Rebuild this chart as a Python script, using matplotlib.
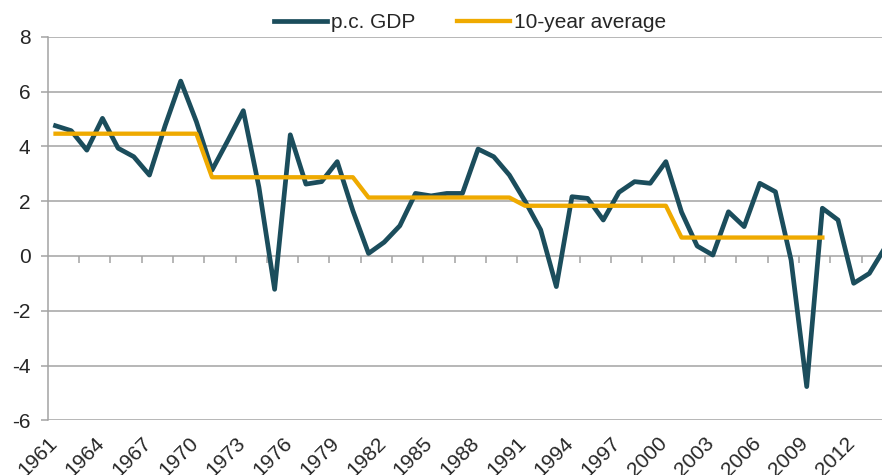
import numpy as np
import matplotlib
matplotlib.use("Agg")
import matplotlib.pyplot as plt
from matplotlib.transforms import ScaledTranslation

years = list(range(1961, 2015))
gdp = [4.75, 4.57, 3.86, 5.02, 3.93, 3.62, 2.95, 4.75, 6.38, 4.90,
       3.13, 4.20, 5.30, 2.50, -1.22, 4.42, 2.62, 2.71, 3.44, 1.65,
       0.09, 0.50, 1.10, 2.28, 2.19, 2.28, 2.28, 3.90, 3.62, 2.95,
       2.00, 0.95, -1.12, 2.16, 2.10, 1.31, 2.32, 2.71, 2.65, 3.44,
       1.60, 0.36, 0.03, 1.61, 1.07, 2.65, 2.34, -0.15, -4.77, 1.74,
       1.31, -1.00, -0.64, 0.30]
decade_avg_values = [4.46, 2.87, 2.13, 1.83, 0.67]
avg10 = [decade_avg_values[(y - 1961) // 10] if y <= 2010 else np.nan for y in years]
label_years = list(range(1961, 2013, 3))
yticks = list(range(-6, 9, 2))

plt.rcParams['font.family'] = ['Liberation Sans', 'DejaVu Sans']
fig = plt.figure(figsize=(8.82, 4.75), dpi=100)
ax = fig.add_axes([47.7 / 882, 1 - 420.3 / 475, 1 - 47.7 / 882, (420.3 - 36.7) / 475])

teal = '#1b4d5c'
gold = '#efaa00'
grid_c = '#a3a3a3'
text_c = '#262626'
fs = 15

l1, = ax.plot(years, gdp, color=teal, lw=3.4, solid_joinstyle='round', label='p.c. GDP', zorder=3)
l2, = ax.plot(years, avg10, color=gold, lw=3.1, solid_joinstyle='round', label='10-year average', zorder=4)

ax.set_xlim(1960.5, 1960.5 + (882 - 47.7) / 15.65)
ax.set_ylim(-6, 8)
ax.set_yticks(yticks)
ax.set_yticklabels([str(v) for v in yticks])
ax.yaxis.grid(True, color=grid_c, lw=1.1)
ax.set_axisbelow(True)
for s in ['top', 'right', 'bottom']:
    ax.spines[s].set_visible(False)
ax.spines['left'].set_color(grid_c)
ax.spines['left'].set_linewidth(1.1)
ax.tick_params(axis='y', length=4.8, width=1.1, color=grid_c, pad=7.5, labelsize=fs, labelcolor=text_c)

ax.set_xticks(label_years)
ax.set_xticklabels([str(y) for y in label_years], rotation=45, ha='right', va='top',
                   rotation_mode='anchor')
ax.tick_params(axis='x', length=0, pad=9.5, labelsize=fs, labelcolor=text_c)
offset = ScaledTranslation(-8 / 100, 0, fig.dpi_scale_trans)
for lbl in ax.get_xticklabels():
    lbl.set_transform(lbl.get_transform() + offset)

# boundary tick marks on the zero line
sec = ax.secondary_xaxis(6 / 14)
sec.set_xticks(np.arange(1962.5, 2014, 2))
sec.set_xticklabels([])
sec.tick_params(axis='x', direction='out', length=5, width=1.1, color=grid_c)
sec.spines['bottom'].set_visible(False)

fig.legend(handles=[l1, l2], loc='center', bbox_to_anchor=(0.533, 1 - 23 / 475),
           ncol=2, frameon=False, fontsize=fs, handlelength=2.55, handletextpad=0.2,
           columnspacing=2.0, labelcolor=text_c)

fig.savefig('out.png', dpi=100)
